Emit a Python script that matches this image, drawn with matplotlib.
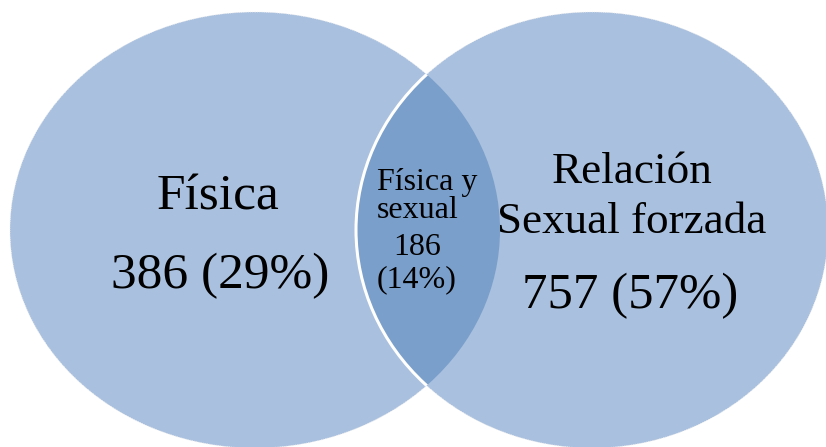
import matplotlib.pyplot as plt
from matplotlib.patches import Ellipse

# data
sets = ["Física", "Relación\nSexual forzada"]
overlap_label = "Física y\nsexual"
counts = [386, 757]
percents = [29, 57]
overlap_count = 186
overlap_percent = 14

light = "#A9C0DE"
dark = "#7A9FCB"

fig = plt.figure(figsize=(8.26, 4.47), dpi=100)
ax = fig.add_axes([0, 0, 1, 1])
ax.set_xlim(0, 826)
ax.set_ylim(447, 0)
ax.axis('off')

# left and right circles (pixel coords)
left = Ellipse((255, 230), 490, 436, facecolor=light, edgecolor='#eeeeee', lw=0.6, ls=':')
right = Ellipse((592, 230), 472, 436, facecolor=light, edgecolor='#eeeeee', lw=0.6, ls=':')
ax.add_patch(left)
ax.add_patch(right)

# intersection: left shape clipped to right shape
inter = Ellipse((255, 230), 490, 436, facecolor=dark, edgecolor='none')
ax.add_patch(inter)
inter.set_clip_path(right)

# white rim of the right circle
rim = Ellipse((592, 230), 472, 436, facecolor='none', edgecolor='white', lw=2.2)
ax.add_patch(rim)
rim.set_clip_path(left)

serif = ['Liberation Serif', 'DejaVu Serif']

ax.text(218, 210, sets[0], family=serif, fontsize=37, ha='center', va='baseline')
ax.text(220, 288, f"{counts[0]} ({percents[0]}%)", family=serif, fontsize=37,
        ha='center', va='baseline')

r1, r2 = sets[1].split("\n")
ax.text(632, 183, r1, family=serif, fontsize=32.5, ha='center', va='baseline')
ax.text(632, 233, r2, family=serif, fontsize=32.5, ha='center', va='baseline')
ax.text(630, 308, f"{counts[1]} ({percents[1]}%)", family=serif, fontsize=36.5,
        ha='center', va='baseline')

m1, m2 = overlap_label.split("\n")
ax.text(427, 190, m1, family=serif, fontsize=23, ha='center', va='baseline')
ax.text(418, 218, m2, family=serif, fontsize=23, ha='center', va='baseline')
ax.text(417, 255, str(overlap_count), family=serif, fontsize=23, ha='center', va='baseline')
ax.text(417, 287, f"({overlap_percent}%)", family=serif, fontsize=23, ha='center', va='baseline')

fig.savefig("out.png", dpi=100)
